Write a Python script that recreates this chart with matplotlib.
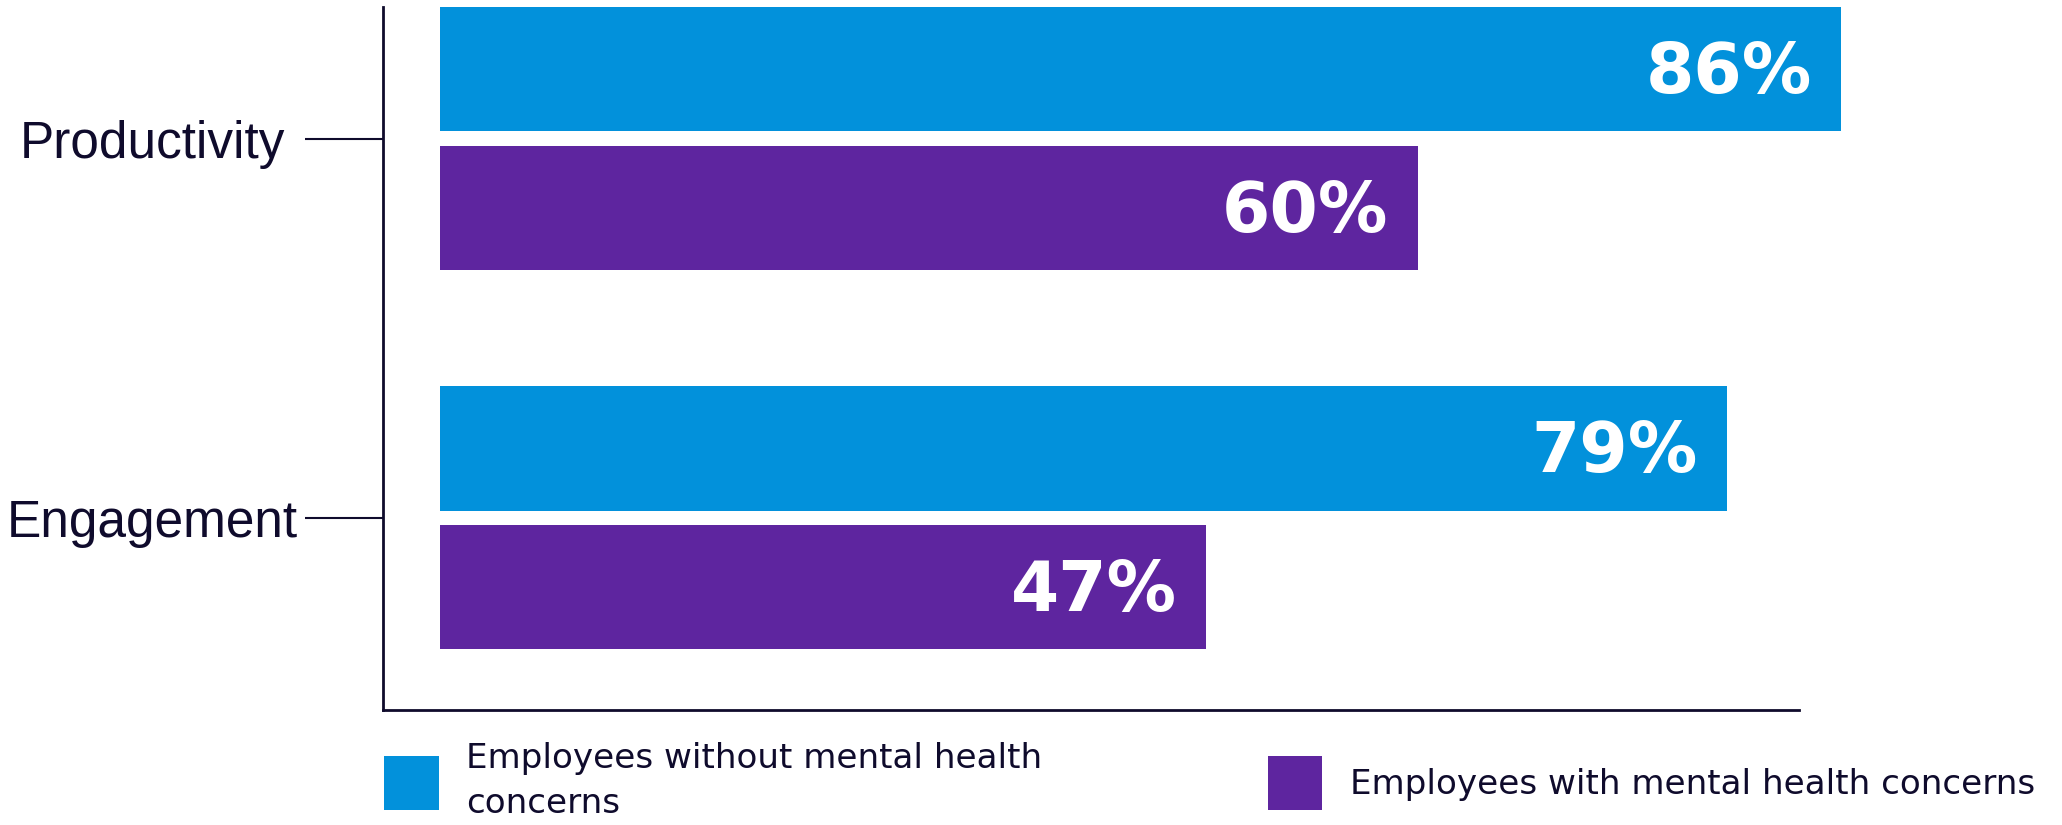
import matplotlib

matplotlib.use("Agg")

import matplotlib.pyplot as plt
import numpy as np

plt.rcParams["font.family"] = ["Liberation Sans", "DejaVu Sans"]

categories = ["Productivity", "Engagement"]
without_concerns = [86, 79]
with_concerns = [60, 47]
series_labels = ["Employees without mental health\nconcerns", "Employees with mental health concerns"]

BLUE = "#0291db"
PURPLE = "#5e259f"
INK = "#0f0b2c"

fig = plt.figure(figsize=(20.62, 8.25), dpi=100)
ax = fig.add_axes([0.1857, 0.1394, 0.6868, 0.8521])

y = np.arange(len(categories))
height = 0.327
offset = 0.183

bars_a = ax.barh(y - offset, without_concerns, height=height, color=BLUE,
                 label=series_labels[0], clip_on=False)
bars_b = ax.barh(y + offset, with_concerns, height=height, color=PURPLE,
                 label=series_labels[1], clip_on=False)

for bars, values in [(bars_a, without_concerns), (bars_b, with_concerns)]:
    for bar, v in zip(bars, values):
        ax.annotate(f"{v}%", xy=(v, bar.get_y() + bar.get_height() / 2),
                    xytext=(-21, -3), textcoords="offset points",
                    ha="right", va="center", color="white",
                    fontsize=50, fontweight="bold", family="DejaVu Sans",
                    annotation_clip=False)

ax.set_xlim(-3.5, 83.4)
ax.set_ylim(1.506, -0.3465)

ax.set_xticks([])
ax.set_yticks(y)
ax.set_yticklabels(categories, fontsize=37, color=INK)
ax.tick_params(axis="y", length=56, width=1.5, color=INK, pad=110)
for lbl in ax.get_yticklabels():
    lbl.set_ha("center")

for side in ["top", "right"]:
    ax.spines[side].set_visible(False)
for side in ["left", "bottom"]:
    ax.spines[side].set_color(INK)
    ax.spines[side].set_linewidth(2)

leg = fig.legend(loc="center left", bbox_to_anchor=(384 / 2062, 1 - 781 / 825),
                 ncol=2, frameon=False,
                 prop={"family": "DejaVu Sans", "size": 24.6},
                 handlelength=1.6, handleheight=2.05, handletextpad=0.8,
                 columnspacing=6.6, borderpad=0, borderaxespad=0, labelspacing=0.2)
for t in leg.get_texts():
    t.set_color(INK)
    t.set_linespacing(1.45)

fig.savefig("out.png", dpi=100)
